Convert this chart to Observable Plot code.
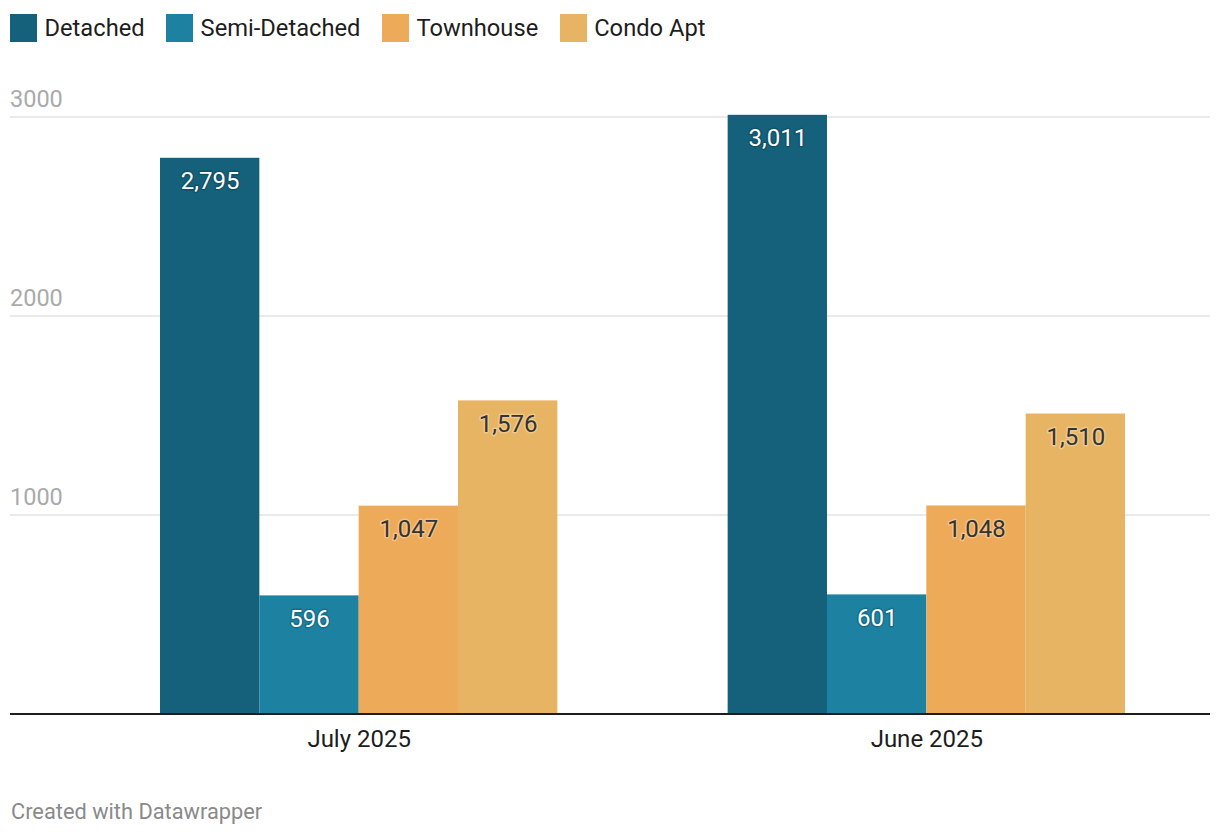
<!DOCTYPE html>
<html>
<head>
<meta charset="utf-8">
<script src="https://cdn.jsdelivr.net/npm/d3@7"></script>
<script src="https://cdn.jsdelivr.net/npm/@observablehq/plot@0.6"></script>
<style>
  html, body { margin: 0; padding: 0; background: #fff; }
  body { width: 1220px; font-family: Roboto, "Noto Sans", sans-serif; }
  #legend { height: 60px; box-sizing: border-box; padding: 14px 0 0 10px; display: flex; align-items: flex-start; }
  .item { display: flex; align-items: center; margin-right: 21.5px; height: 28px; }
  .sw { width: 27px; height: 28px; margin-right: 7.5px; }
  .lab { font-size: 23.7px; color: #1d1d1d; }
  #chart svg { display: block; font-family: Roboto, "Noto Sans", sans-serif; }
  #footer { padding-left: 11px; margin-top: 35px; font-size: 21.8px; color: #8a8a8a; }
</style>
</head>
<body>
<div id="legend"></div>
<div id="chart"></div>
<div id="footer">Created with Datawrapper</div>
<script>
const months = ["July 2025", "June 2025"];
const types = ["Detached", "Semi-Detached", "Townhouse", "Condo Apt"];
const colors = ["#15607a", "#1d81a2", "#edaa58", "#e7b463"];
const julyValues = [2795, 596, 1047, 1576];
const juneValues = [3011, 601, 1048, 1510];
const yTicks = [1000, 2000, 3000];
const labelColors = ["#ffffff", "#ffffff", "#333333", "#333333"];

const seriesByMonth = [julyValues, juneValues];
const data = [];
months.forEach((m, i) => types.forEach((t, j) => data.push({month: m, type: t, value: seriesByMonth[i][j]})));

// legend
const legend = document.getElementById("legend");
types.forEach((t, j) => {
  const it = document.createElement("div");
  it.className = "item";
  it.innerHTML = `<div class="sw" style="background:${colors[j]}"></div><span class="lab">${t}</span>`;
  legend.appendChild(it);
});

const fmt = d3.format(",");
const lightText = types.filter((t, j) => labelColors[j] === "#ffffff");

const W = 1220, ML = 10, MR = 10;
const chart = Plot.plot({
  width: W,
  height: 704,
  marginLeft: ML,
  marginRight: MR,
  marginTop: 57,
  marginBottom: 50,
  fx: {domain: months, range: [160, 1125], paddingInner: 0.3, paddingOuter: 0, round: false, label: null},
  x: {domain: types, padding: 0, round: false, axis: null},
  y: {domain: [0, 3000], axis: null},
  color: {domain: types, range: colors},
  marks: [
    Plot.barY(data, {fx: "month", x: "type", y: "value", fill: "type"}),
    Plot.text(data.filter(d => lightText.includes(d.type)), {fx: "month", x: "type", y: "value", text: d => fmt(d.value), dy: 23, fontSize: 24, fill: "#ffffff", stroke: "#000000", strokeOpacity: 0.18, strokeWidth: 3}),
    Plot.text(data.filter(d => !lightText.includes(d.type)), {fx: "month", x: "type", y: "value", text: d => fmt(d.value), dy: 23, fontSize: 24, fill: "#333333", stroke: "#ffffff", strokeOpacity: 0.3, strokeWidth: 3}),
    Plot.axisFx({anchor: "bottom", tickSize: 0, tickPadding: 15, fontSize: 24, color: "#1d1d1d", label: null})
  ]
});

// full-width gridlines, tick labels and baseline drawn from the plot's own y scale
const y = chart.scale("y");
const svg = d3.select(chart);
const firstMark = chart.querySelector("g");
const grid = svg.insert("g", () => firstMark).attr("aria-label", "grid");
grid.selectAll("line").data(yTicks).join("line")
  .attr("x1", ML).attr("x2", W - MR)
  .attr("y1", d => y.apply(d)).attr("y2", d => y.apply(d))
  .attr("stroke", "#e3e3e3").attr("stroke-width", 1.5);
const tl = svg.append("g").attr("aria-label", "y-axis tick labels").attr("text-anchor", "start");
tl.selectAll("text").data(yTicks).join("text")
  .attr("x", ML).attr("y", d => y.apply(d) - 18).attr("dy", "0.35em")
  .attr("text-anchor", "start")
  .attr("font-size", 23.5).attr("fill", "#aaaaaa")
  .text(d => String(d));
svg.append("line").attr("aria-label", "baseline")
  .attr("x1", ML).attr("x2", W - MR)
  .attr("y1", y.apply(0)).attr("y2", y.apply(0))
  .attr("stroke", "#1d1d1d").attr("stroke-width", 2);

document.getElementById("chart").appendChild(chart);
</script>
</body>
</html>
